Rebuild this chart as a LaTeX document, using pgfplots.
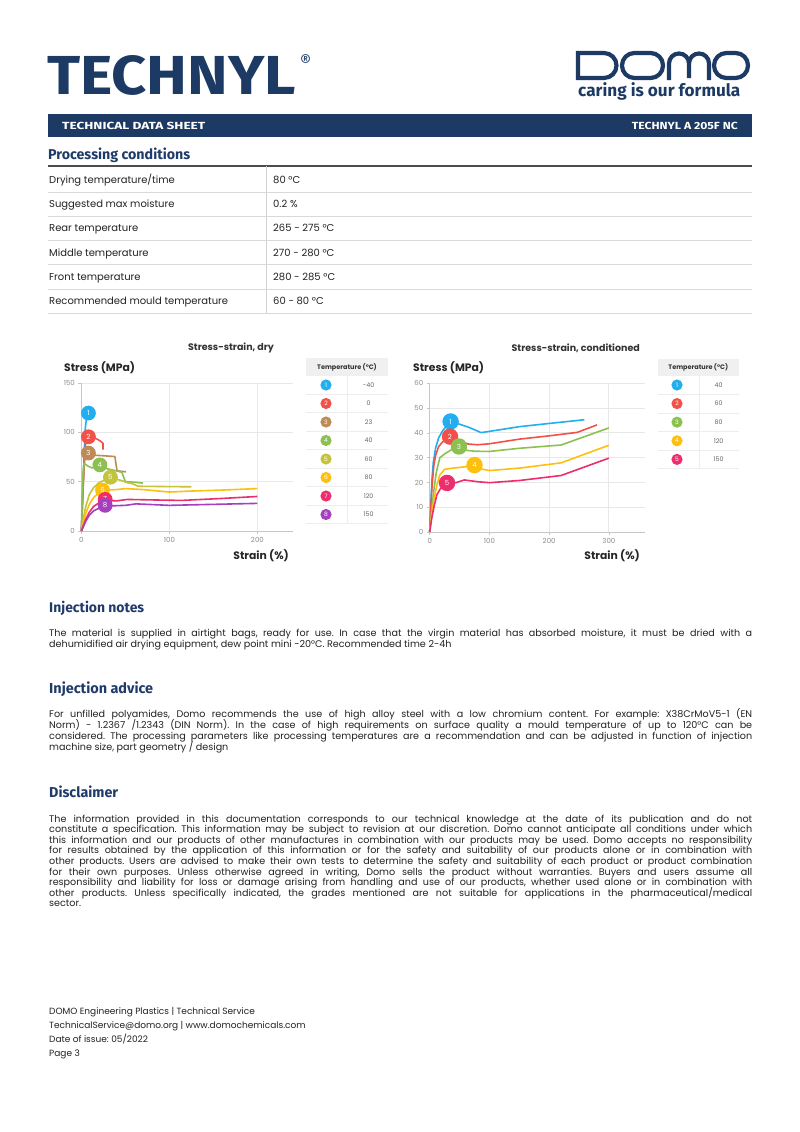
\documentclass[border=0pt]{standalone}
\usepackage{fontspec}
\setmainfont{Poppins}
\newfontfamily\fira{Fira Sans}
\usepackage{graphicx}
\usepackage{pgfplots}
\pgfplotsset{compat=1.18}
\frenchspacing
\definecolor{navy}{HTML}{1D3A64}
\definecolor{hnavy}{HTML}{1F3B6A}
\definecolor{txt}{HTML}{222222}
\definecolor{cA}{HTML}{22AEEF}
\definecolor{cB}{HTML}{F2514A}
\definecolor{cC}{HTML}{BE8A55}
\definecolor{cD}{HTML}{8CC152}
\definecolor{cE}{HTML}{C4C43C}
\definecolor{cF}{HTML}{FDC010}
\definecolor{cG}{HTML}{EE2D6C}
\definecolor{cH}{HTML}{A63FBE}
\newlength\jlw
\newcommand\jl[1]{\settowidth\jlw{#1}\ifdim\jlw>703pt \resizebox{703pt}{\height}{#1}\else\makebox[703pt][s]{#1}\fi}
\newcommand\bodyfont{\fontsize{9.6}{10}\selectfont\color{txt}}
\pgfplotsset{
  sscirc/.style={only marks, mark=*, mark size=#1, mark options={draw=none},
    nodes near coords align=center,
    every node near coord/.append style={text=white, font=\fontsize{7}{7}\selectfont, inner sep=0pt}},
  sschart/.style={scale only axis, anchor=south west,
    axis x line=bottom, axis y line=left,
    axis line style={-, draw=black!22, line width=0.8pt},
    every outer x axis line/.append style={-}, every outer y axis line/.append style={-},
    grid=major, grid style={draw=black!9, line width=0.8pt},
    major tick length=3pt, tick align=outside, tick style={draw=black!22, line width=0.6pt},
    tick label style={font=\fontsize{7}{8}\selectfont, text=black!45},
    /pgf/number format/assume math mode=true,
    clip=false,
    every axis plot/.append style={line width=1.6pt, line join=round, mark=none}},
}
\begin{document}
\begin{tikzpicture}[x=1pt,y=1pt]
\fill[white] (0,0) rectangle (800,-1132);
\useasboundingbox (0,0) rectangle (800,-1132);
% ---------- header ----------
\node[anchor=base west, inner sep=0, text=navy] at (47,-94.5) {\resizebox{249pt}{39pt}{\fira\bfseries TECHNYL}};
\node[anchor=center, inner sep=0, text=navy] at (305.5,-61.5) {\resizebox{11pt}{!}{\fira ®}};
\begin{scope}[navy, line width=4.2pt]
\draw (578,-53) -- (604,-53) arc[start angle=90, end angle=-90, radius=12.5] -- (578,-78) -- cycle;
\draw[rounded corners=12.4pt] (622,-53) rectangle (663,-78);
\draw (669,-80.1) -- (669,-63.5) arc[start angle=180, end angle=0, radius=10] -- (689,-78) (689,-63.5) arc[start angle=180, end angle=0, radius=10] -- (709,-80.1);
\draw[rounded corners=12.4pt] (714,-53) rectangle (748,-78);
\end{scope}
\node[anchor=base west, inner sep=0, text=navy] at (578,-96) {\resizebox{162pt}{!}{\fira\bfseries\fontsize{14}{16}\selectfont caring is our formula}};
\fill[navy] (48,-114) rectangle (752,-137);
\node[anchor=base west, inner sep=0, text=white] at (62,-129.5) {\resizebox{143pt}{7.3pt}{\fira\bfseries TECHNICAL DATA SHEET}};
\node[anchor=base east, inner sep=0, text=white] at (738,-129.5) {\resizebox{106pt}{7.3pt}{\fira\bfseries TECHNYL A 205F NC}};
% ---------- processing conditions ----------
\node[anchor=base west, inner sep=0, text=hnavy] at (48,-159.5) {\resizebox{142pt}{!}{\fira\bfseries\fontsize{12.5}{14}\selectfont Processing conditions}};
\draw[black!70, line width=1.3pt] (48,-166) -- (752,-166);
\draw[black!18, line width=0.7pt] (266,-166) -- (266,-313);
\foreach \y/\a/\b in {180/Drying temperature\slash time/80 °C, 204/Suggested max moisture/0.2 \%, 228/Rear temperature/265 - 275 °C, 252.5/Middle temperature/270 - 280 °C, 277/Front temperature/280 - 285 °C, 301/Recommended mould temperature/60 - 80 °C}{
  \node[anchor=base west, inner sep=0, text=txt] at (49,-\y-3.5) {\fontsize{10}{12}\selectfont \a};
  \node[anchor=base west, inner sep=0, text=txt] at (273,-\y-3.5) {\fontsize{10}{12}\selectfont \b};
  \draw[black!15, line width=0.7pt] (48,-\y-12) -- (752,-\y-12);
}
% ---------- chart titles ----------
\node[anchor=center, inner sep=0, text=black!80] at (231,-348) {\fontsize{9.5}{10}\selectfont\bfseries Stress-strain, dry};
\node[anchor=east, inner sep=0, text=black!80] at (640,-348) {\fontsize{9.5}{10}\selectfont\bfseries Stress-strain, conditioned};
\node[anchor=west, inner sep=0, text=black!85] at (64,-368) {\fontsize{10.8}{12}\selectfont\bfseries Stress (MPa)};
\node[anchor=west, inner sep=0, text=black!85] at (413,-368) {\fontsize{10.8}{12}\selectfont\bfseries Stress (MPa)};
\node[anchor=east, inner sep=0, text=black!85] at (289,-556) {\fontsize{10.8}{12}\selectfont\bfseries Strain (\%)};
\node[anchor=east, inner sep=0, text=black!85] at (640,-556) {\fontsize{10.8}{12}\selectfont\bfseries Strain (\%)};
% ---------- dry chart ----------
\begin{axis}[sschart, at={(81.4pt,-531pt)}, width=211.2pt, height=148pt,
  xmin=0, xmax=240, ymin=0, ymax=150, xtick={0,100,200}, ytick={0,50,100,150}]
\addplot[cA] coordinates {(0,0) (2,50) (3.5,85) (4.5,105) (6,115) (8,119)};
\addplot[cB] coordinates {(0,0) (2,45) (3.5,75) (5,90) (8,95) (16,94) (21,91.5) (24.5,89) (24.5,82.5)};
\addplot[cC] coordinates {(0,0) (2,45) (3.5,70) (5,77) (8,79) (12,77) (38,75.5) (40.5,61) (50.5,60)};
\addplot[cD] coordinates {(0,0) (1,40) (2,62) (3,68.5) (8,65.5) (12,64) (19,66) (25,64) (37,61.5) (46,59.5) (50,50) (60,49.5) (70,48.5)};
\addplot[cE] coordinates {(0,0) (2,12) (5,25) (9,37) (14,44) (20,49) (26,51.5) (33,53) (40,52.5) (46,51) (52,49) (58,48) (64,45.5) (70,45.3) (100,45) (125,44.8)};
\addplot[cF] coordinates {(0,0) (2,8) (5,18) (9,27) (14,34) (19,38) (24,40.5) (30,41.5) (40,42) (50,43) (70,42) (100,39.5) (125,40.5) (160,41.5) (200,43)};
\addplot[cG] coordinates {(0,0) (2,5) (5,12) (9,19) (14,25) (19,28) (24,30.5) (30,31) (40,30.5) (52,32) (80,31.5) (114,31) (160,33) (200,35)};
\addplot[cH] coordinates {(0,0) (2,4) (5,10) (9,16) (14,20.5) (20,23) (26,25) (35,25.5) (50,26) (62,27.5) (100,26) (150,27) (200,28)};
\addplot[sscirc=6.6pt, cA, nodes near coords={1}] coordinates {(8,119.5)};
\addplot[sscirc=6.6pt, cB, nodes near coords={2}] coordinates {(8,95.5)};
\addplot[sscirc=6.6pt, cC, nodes near coords={3}] coordinates {(8,79)};
\addplot[sscirc=6.6pt, cD, nodes near coords={4}] coordinates {(21,67)};
\addplot[sscirc=6.6pt, cE, nodes near coords={5}] coordinates {(33,54.5)};
\addplot[sscirc=6.6pt, cF, nodes near coords={6}] coordinates {(24,41.5)};
\addplot[sscirc=6.6pt, cG, nodes near coords={7}] coordinates {(27,32)};
\addplot[sscirc=6.6pt, cH, nodes near coords={8}] coordinates {(27,26)};
\end{axis}
% ---------- conditioned chart ----------
\begin{axis}[sschart, at={(429.7pt,-532pt)}, width=215pt, height=148.7pt,
  xmin=0, xmax=360, ymin=0, ymax=60, xtick={0,100,200,300}, ytick={0,10,...,60}]
\addplot[cA] coordinates {(0,0) (2,12) (4,22) (6,28) (10,34) (15,38) (22,41) (35,44.5) (50,43.5) (66,42.2) (86,40.1) (100,40.6) (150,42.5) (200,43.8) (259,45.3)};
\addplot[cB] coordinates {(0,0) (2,10) (4,19) (7,27) (10,31) (15,34.5) (22,36.5) (34,38) (50,36.5) (65,35.5) (80,35.2) (100,35.6) (151,37.5) (200,38.8) (247,40.2) (280,43.2)};
\addplot[cD] coordinates {(0,0) (3,8) (7,17) (11,24) (17,30) (25,31.5) (35,33) (49,34.4) (60,33) (75,32.6) (100,32.5) (151,33.8) (220,35.1) (300,42)};
\addplot[cF] coordinates {(0,0) (3,6) (7,13) (12,19) (17,23) (25,25.3) (40,25.8) (55,26.2) (75,26.8) (85,25.5) (100,24.8) (151,25.8) (220,27.9) (300,35)};
\addplot[cG] coordinates {(0,0) (3,5) (7,10) (12,15) (18,17.5) (28,19.5) (45,20) (58,21) (80,20.3) (100,19.9) (151,20.8) (220,22.8) (300,29.8)};
\addplot[sscirc=7.4pt, cA, nodes near coords={1}] coordinates {(35,44.6)};
\addplot[sscirc=7.4pt, cB, nodes near coords={2}] coordinates {(34,38.5)};
\addplot[sscirc=7.4pt, cD, nodes near coords={3}] coordinates {(49,34.5)};
\addplot[sscirc=7.4pt, cF, nodes near coords={4}] coordinates {(75,27)};
\addplot[sscirc=7.4pt, cG, nodes near coords={5}] coordinates {(29,19.8)};
\end{axis}
% ---------- legend tables ----------
\fill[black!6] (306,-358) rectangle (388,-376);
\node[text=black!80] at (347,-367) {\fontsize{6.5}{7}\selectfont\bfseries Temperature (°C)};
\draw[black!7, line width=0.8pt] (347.5,-376) -- (347.5,-524);
\foreach \i/\c/\v in {1/cA/-40, 2/cB/0, 3/cC/23, 4/cD/40, 5/cE/60, 6/cF/80, 7/cG/120, 8/cH/150}{
  \pgfmathsetmacro\yy{385+(\i-1)*18.5}
  \fill[\c] (326,-\yy) circle[radius=5.6];
  \node[text=white, inner sep=0] at (326,-\yy) {\fontsize{6}{6}\selectfont\i};
  \node[text=black!60, inner sep=0] at (368.6,-\yy) {\fontsize{6.3}{7}\selectfont\v};
  \draw[black!7, line width=0.8pt] (306,-\yy-9.25) -- (388,-\yy-9.25);
}
\fill[black!6] (657.6,-358.5) rectangle (739,-376.4);
\node[text=black!80] at (698.3,-367.4) {\fontsize{6.5}{7}\selectfont\bfseries Temperature (°C)};
\draw[black!7, line width=0.8pt] (699.6,-376.4) -- (699.6,-468.5);
\foreach \i/\c/\v in {1/cA/40, 2/cB/60, 3/cD/80, 4/cF/120, 5/cG/150}{
  \pgfmathsetmacro\yy{385+(\i-1)*18.6}
  \fill[\c] (677,-\yy) circle[radius=5.6];
  \node[text=white, inner sep=0] at (677,-\yy) {\fontsize{6}{6}\selectfont\i};
  \node[text=black!60, inner sep=0] at (718.6,-\yy) {\fontsize{6.3}{7}\selectfont\v};
  \draw[black!7, line width=0.8pt] (657.6,-\yy-9.3) -- (739,-\yy-9.3);
}
% ---------- Injection notes ----------
\node[anchor=base west, inner sep=0, text=hnavy] at (49,-612.5) {\resizebox{95pt}{!}{\fira\bfseries\fontsize{12.5}{14}\selectfont Injection notes}};
\node[anchor=base west, inner sep=0] at (49,-636) {\bodyfont\jl{The material is supplied in airtight bags, ready for use. In case that the virgin material has absorbed moisture, it must be dried with a}};
\node[anchor=base west, inner sep=0] at (49,-647) {\bodyfont dehumidified air drying equipment, dew point mini -20°C. Recommended time 2-4h};
% ---------- Injection advice ----------
\node[anchor=base west, inner sep=0, text=hnavy] at (49,-693.5) {\resizebox{104pt}{!}{\fira\bfseries\fontsize{12.5}{14}\selectfont Injection advice}};
\node[anchor=base west, inner sep=0] at (49,-717) {\bodyfont\jl{For unfilled polyamides, Domo recommends the use of high alloy steel with a low chromium content. For example: X38CrMoV5-1 (EN}};
\node[anchor=base west, inner sep=0] at (49,-728) {\bodyfont\jl{Norm) - 1.2367 /1.2343 (DIN Norm). In the case of high requirements on surface quality a mould temperature of up to 120°C can be}};
\node[anchor=base west, inner sep=0] at (49,-739) {\bodyfont\jl{considered. The processing parameters like processing temperatures are a recommendation and can be adjusted in function of injection}};
\node[anchor=base west, inner sep=0] at (49,-750) {\bodyfont machine size, part geometry / design};
% ---------- Disclaimer ----------
\node[anchor=base west, inner sep=0, text=hnavy] at (49,-797.5) {\resizebox{69pt}{!}{\fira\bfseries\fontsize{12.5}{14}\selectfont Disclaimer}};
\foreach \k/\t in {0/{The information provided in this documentation corresponds to our technical knowledge at the date of its publication and do not},
1/{constitute a specification. This information may be subject to revision at our discretion. Domo cannot anticipate all conditions under which},
2/{this information and our products of other manufactures in combination with our products may be used. Domo accepts no responsibility},
3/{for results obtained by the application of this information or for the safety and suitability of our products alone or in combination with},
4/{other products. Users are advised to make their own tests to determine the safety and suitability of each product or product combination},
5/{for their own purposes. Unless otherwise agreed in writing, Domo sells the product without warranties. Buyers and users assume all},
6/{responsibility and liability for loss or damage arising from handling and use of our products, whether used alone or in combination with},
7/{other products. Unless specifically indicated, the grades mentioned are not suitable for applications in the pharmaceutical/medical}}{
  \node[anchor=base west, inner sep=0] at (49,-822-10.6*\k) {\bodyfont\jl{\t}};
}
\node[anchor=base west, inner sep=0] at (49,-822-10.6*8) {\bodyfont sector.};
% ---------- footer ----------
\foreach \k/\t in {0/{DOMO Engineering Plastics | Technical Service}, 1/{TechnicalService@domo.org | www.domochemicals.com}, 2/{Date of issue: 05/2022}, 3/{Page 3}}{
  \node[anchor=base west, inner sep=0] at (49,-1014.5-14*\k) {\fontsize{9}{10}\selectfont\color{txt}\t};
}
\end{tikzpicture}
\end{document}
